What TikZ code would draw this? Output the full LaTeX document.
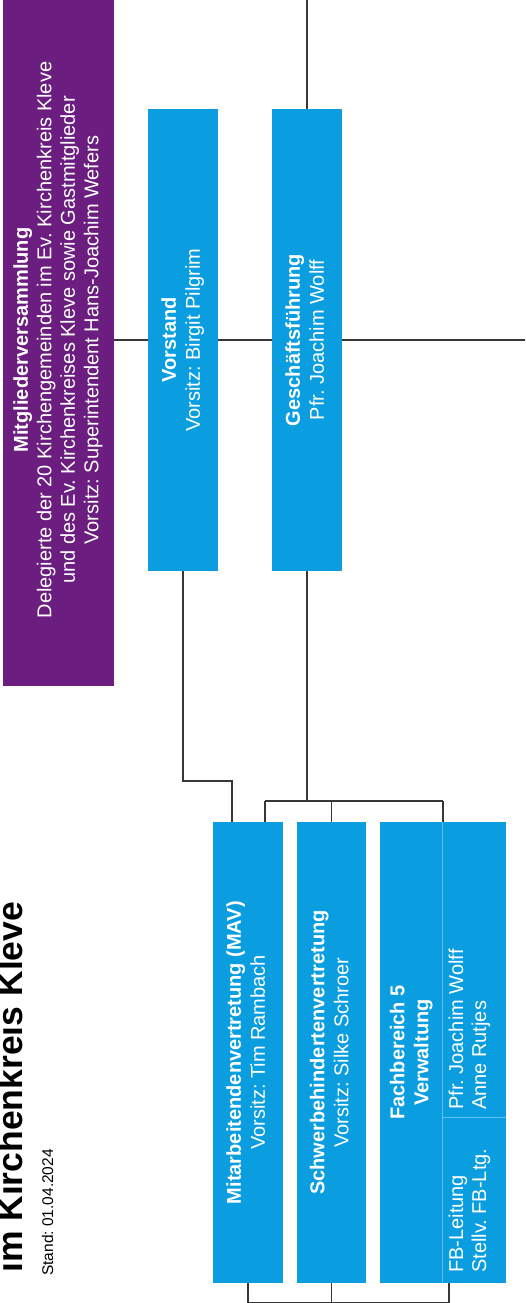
\documentclass[tikz,border=0pt]{standalone}
\usepackage{fontspec}
\setmainfont{Liberation Sans}
\usepackage{graphicx}
\frenchspacing
\definecolor{orgpurple}{RGB}{107,30,127}
\definecolor{orgblue}{RGB}{10,157,224}
\definecolor{linegray}{RGB}{55,55,55}
\definecolor{divblue}{RGB}{100,190,238}
\tikzset{
  purplebox/.style={fill=orgpurple, draw=none, inner sep=0pt, text=white, font=\fontsize{20}{23.5}\selectfont\frenchspacing},
  bluebox/.style={fill=orgblue, draw=none, inner sep=0pt, text=white, font=\fontsize{20}{24}\selectfont\frenchspacing},
  celltext/.style={rotate=90, anchor=west, inner sep=0pt, align=left, text=white, font=\fontsize{20}{23}\selectfont\frenchspacing},
  conn/.style={draw=linegray, line width=1.6pt},
  divider/.style={draw=divblue, line width=0.8pt},
}
\begin{document}
\begin{tikzpicture}[x=1pt, y=-1pt]
\useasboundingbox (0,0) rectangle (525,1303);
\clip (0,0) rectangle (525,1303);

% title
\node[rotate=90, anchor=base west, inner sep=0pt, font=\fontsize{35.5}{40}\selectfont\bfseries] (title) at (23,1273) {im Kirchenkreis Kleve};
\node[rotate=90, anchor=base west, inner sep=0pt, font=\fontsize{15.5}{18}\selectfont\frenchspacing] (stand) at (53,1276) {Stand: 01.04.2024};

% boxes
\node[purplebox, minimum width=111pt, minimum height=692pt] (purple) at (58.5,340)
  {\rotatebox{90}{\begin{tabular}{@{}c@{}}\textbf{Mitgliederversammlung}\\Delegierte der 20 Kirchengemeinden im Ev. Kirchenkreis Kleve\\und des Ev. Kirchenkreises Kleve sowie Gastmitglieder\\Vorsitz: Superintendent Hans-Joachim Wefers\end{tabular}}};

\node[bluebox, minimum width=70pt, minimum height=462pt] (vorstand) at (183,340)
  {\rotatebox{90}{\begin{tabular}{@{}c@{}}\textbf{Vorstand}\\Vorsitz: Birgit Pilgrim\end{tabular}}};

\node[bluebox, minimum width=70pt, minimum height=462pt] (gf) at (307,340)
  {\rotatebox{90}{\begin{tabular}{@{}c@{}}\textbf{Geschäftsführung}\\Pfr. Joachim Wolff\end{tabular}}};

\node[bluebox, minimum width=70pt, minimum height=461pt] (mav) at (248,1052.5)
  {\rotatebox{90}{\begin{tabular}{@{}c@{}}\textbf{Mitarbeitendenvertretung (MAV)}\\Vorsitz: Tim Rambach\end{tabular}}};

\node[bluebox, minimum width=69pt, minimum height=461pt] (schwer) at (331.5,1052.5)
  {\rotatebox{90}{\begin{tabular}{@{}c@{}}\textbf{Schwerbehindertenvertretung}\\Vorsitz: Silke Schroer\end{tabular}}};

\node[bluebox, minimum width=63pt, minimum height=461pt] (fbleft) at (411.5,1052.5)
  {\rotatebox{90}{\begin{tabular}{@{}c@{}}\textbf{Fachbereich 5}\\\textbf{Verwaltung}\end{tabular}}};
\node[bluebox, minimum width=63pt, minimum height=295pt] (fbtop) at (474.5,969.5) {};
\node[bluebox, minimum width=63pt, minimum height=166pt] (fbbot) at (474.5,1200) {};
\draw[divider] (fbtop.north west) -- (fbbot.south west);
\draw[divider] (fbtop.south west) -- (fbtop.south east);
\node[celltext] (fbnames) at (469.5,1110) {Pfr. Joachim Wolff\\Anne Rutjes};
\node[celltext] (fbroles) at (469.5,1273) {FB-Leitung\\Stellv. FB-Ltg.};

% connectors
\coordinate (topend) at (307,-5);
\coordinate (rightend) at (530,340);
\draw[conn] (gf.north) -- (topend);
\draw[conn] (purple.east) -- (vorstand.west);
\draw[conn] (vorstand.east) -- (gf.west);
\draw[conn] (gf.east) -- (rightend);

\coordinate (vbend) at (232,781);
\draw[conn] (vorstand.south) |- (vbend) -- (vbend |- mav.north);

\coordinate (bus) at (307,801);
\coordinate (busL) at (265,801);
\coordinate (busR) at (443,801);
\draw[conn] (gf.south) -- (bus);
\draw[conn] (busL) -- (busR);
\draw[conn] (busL) -- (busL |- mav.north);
\draw[conn] (schwer.north |- bus) -- (schwer.north);
\draw[conn] (busR) -- (busR |- fbtop.north);

\coordinate (fbdrop) at (449,1283);
\coordinate (bbR) at (449,1302.5);
\draw[conn] (mav.south) -- (mav.south |- bbR) -- (bbR);
\draw[conn] (schwer.south) -- (schwer.south |- bbR);
\draw[conn] (fbdrop) -- (bbR);
\end{tikzpicture}
\end{document}
